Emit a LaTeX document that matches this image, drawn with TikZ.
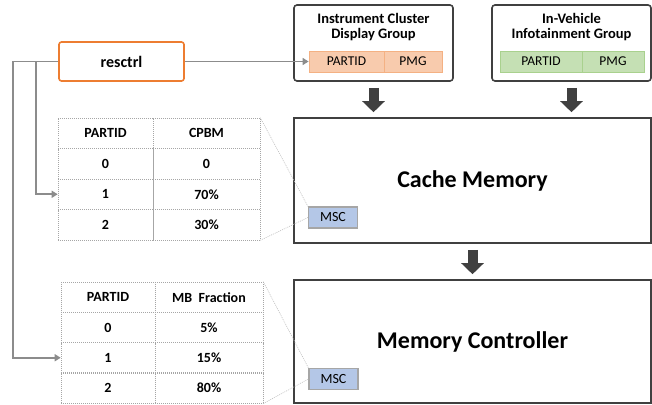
\documentclass[tikz,border=0pt]{standalone}
\usepackage{fontspec}
\setmainfont{Carlito}
\usetikzlibrary{arrows.meta}

\definecolor{boxline}{HTML}{404040}
\definecolor{connline}{HTML}{8C8C8C}
\definecolor{ctrlorange}{HTML}{ED7D31}
\definecolor{pinkfill}{HTML}{F8CBAD}
\definecolor{pinkline}{HTML}{F4B183}
\definecolor{greenfill}{HTML}{C5E0B4}
\definecolor{greenline}{HTML}{A9D18E}
\definecolor{mscfill}{HTML}{B4C7E7}
\definecolor{mscline}{HTML}{A6A6A6}
\definecolor{cellline}{HTML}{A6A6A6}
\definecolor{zoomline}{HTML}{BFBFBF}

\tikzset{
  x=1pt, y=-1pt,
  ctrlbox/.style={draw=ctrlorange, line width=1.6pt, rounded corners=2.5pt,
    minimum width=125pt, minimum height=39pt, inner sep=0pt,
    font=\fontsize{16}{18}\selectfont\bfseries},
  groupbox/.style={draw=boxline, line width=1.6pt, rounded corners=3pt,
    minimum width=159pt, minimum height=76pt, inner sep=0pt},
  grouptitle/.style={align=center, inner sep=0pt,
    font=\fontsize{14.5}{15.5}\selectfont\bfseries},
  barcell/.style={line width=0.8pt, minimum height=21pt, inner sep=0pt,
    font=\fontsize{13.5}{15}\selectfont},
  pinkcell/.style={barcell, draw=pinkline, fill=pinkfill},
  greencell/.style={barcell, draw=greenline, fill=greenfill},
  membox/.style={draw=boxline, line width=1.6pt, minimum width=357pt,
    inner sep=0pt, font=\fontsize{24}{28}\selectfont\bfseries},
  mscbox/.style={draw=mscline, fill=mscfill, line width=1.2pt,
    minimum width=49pt, minimum height=21pt, inner sep=0pt,
    font=\fontsize{14}{16}\selectfont},
  cell/.style={draw=cellline, line width=0.6pt, dash pattern=on 0.8pt off 1.2pt,
    inner sep=0pt, font=\fontsize{14}{16}\selectfont\bfseries},
  cola/.style={cell, minimum width=95pt, minimum height=30.5pt},
  colb/.style={cell, minimum width=107pt, minimum height=30.5pt},
  blockarrow/.style={draw=boxline, line width=10pt,
    -{Triangle[width=22pt, length=11pt]}, shorten <=6pt, shorten >=5pt},
  conn/.style={draw=connline, line width=1.6pt,
    -{Triangle[width=7pt, length=6pt]}},
  zoomlink/.style={draw=zoomline, line width=0.6pt, dash pattern=on 1pt off 1pt},
}

\begin{document}
\begin{tikzpicture}
\useasboundingbox (0,0) rectangle (652,404);

% controller
\node[ctrlbox] (resctrl) at (121.5,61.5) {resctrl};

% partition groups
\node[groupbox] (icd) at (373.5,43) {};
\node[grouptitle] (icdt) at (373.5,27) {Instrument Cluster\\Display Group};
\node[pinkcell, minimum width=75pt] (icdp) at (346.5,61.5) {PARTID};
\node[pinkcell, minimum width=58pt] (icdm) at (413,61.5) {PMG};

\node[groupbox] (ivi) at (571.5,43) {};
\node[grouptitle] (ivit) at (571.5,27) {In-Vehicle\\Infotainment Group};
\node[greencell, minimum width=82pt] (ivip) at (541,61.5) {PARTID};
\node[greencell, minimum width=62pt] (ivim) at (613,61.5) {PMG};

% memory system components
\node[membox, minimum height=125pt] (cache) at (472.5,180.5) {Cache Memory};
\node[membox, minimum height=123pt] (mc) at (472.5,341.5) {Memory Controller};
\node[mscbox] (msca) at (333,217.5) {MSC};
\node[mscbox] (mscb) at (333.5,379) {MSC};

% cache portion bitmap table
\node[cola] (ta0) at (105.5,133.25) {PARTID};
\node[colb] (tb0) at (206.5,133.25) {CPBM};
\node[cola] (ta1) at (105.5,163.75) {0};
\node[colb] (tb1) at (206.5,163.75) {0};
\node[cola] (ta2) at (105.5,194.25) {1};
\node[colb] (tb2) at (206.5,194.25) {70\%};
\node[cola] (ta3) at (105.5,224.75) {2};
\node[colb] (tb3) at (206.5,224.75) {30\%};

% memory bandwidth table
\node[cola, minimum width=94pt] (ua0) at (108,297.25) {PARTID};
\node[colb, minimum width=108pt] (ub0) at (209,297.25) {MB\ \ Fraction};
\node[cola, minimum width=94pt] (ua1) at (108,327.5) {0};
\node[colb, minimum width=108pt] (ub1) at (209,327.5) {5\%};
\node[cola, minimum width=94pt] (ua2) at (108,357.75) {1};
\node[colb, minimum width=108pt] (ub2) at (209,357.75) {15\%};
\node[cola, minimum width=94pt] (ua3) at (108,388) {2};
\node[colb, minimum width=108pt] (ub3) at (209,388) {80\%};

% links from tables to their MSCs
\draw[zoomlink] (tb0.north east) -- (msca.north west);
\draw[zoomlink] (tb3.south east) -- (msca.west);
\draw[zoomlink] (ub0.north east) -- (mscb.north west);
\draw[zoomlink] (ub3.south east) -- (mscb.west);

% control connections
\draw[conn] (resctrl.east) -- (icdp.west);
\draw[conn] (resctrl.west) -- ([xshift=-45pt]resctrl.west) |- (ua2.west);
\draw[conn] ([xshift=-22pt]resctrl.west) |- (ta2.west);

% data flow
\draw[blockarrow] (icd.south) -- (icd.south |- cache.north);
\draw[blockarrow] (ivi.south) -- (ivi.south |- cache.north);
\draw[blockarrow] (cache.south) -- (mc.north);
\end{tikzpicture}
\end{document}
